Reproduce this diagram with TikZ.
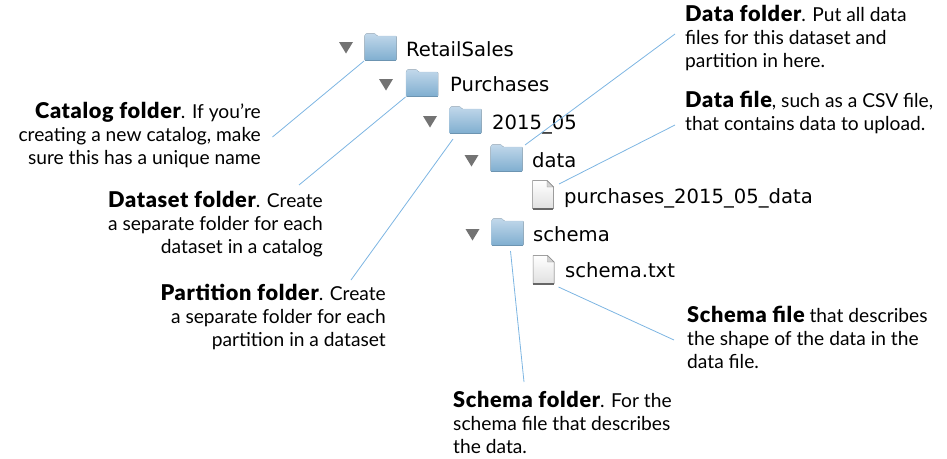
\documentclass[tikz,border=0pt]{standalone}
\usepackage{fontspec}
\setmainfont{Lato}
\newfontfamily\treefont{DejaVu Sans}
\newfontfamily\heavy[Scale=1.13,LetterSpace=3]{Lato Black}
\definecolor{leader}{HTML}{7DB5E2}
\definecolor{foldtop}{HTML}{C2D8EA}
\definecolor{foldbot}{HTML}{7FAED0}
\definecolor{foldedge}{HTML}{B0CBDF}
\definecolor{tri}{gray}{0.45}
\tikzset{
  x=1pt,y=-1pt,
  leaderline/.style={draw=leader,line width=0.8pt},
  iconbox/.style={inner sep=0pt,outer sep=0pt,anchor=north west},
  foldericon/.style={iconbox,minimum width=33pt,minimum height=28pt},
  fileicon/.style={iconbox,minimum width=22pt,minimum height=30pt},
  treelabel/.style={inner sep=0pt,anchor=base west,font=\treefont\fontsize{19.6}{22}\selectfont},
  noteleft/.style={inner sep=0pt,anchor=north west,align=left,font=\fontsize{19.2}{23}\selectfont},
  noteright/.style={inner sep=0pt,anchor=north east,align=right,font=\fontsize{19.2}{23}\selectfont},
}
\newcommand{\mkfolder}[3]{%
  \node[foldericon] (#1) at (#2,#3) {};
  \begin{scope}[shift={(#1.north west)}]
    \fill[top color=foldtop,bottom color=foldbot,draw=foldedge,line width=0.4pt,rounded corners=0.8pt]
      (0.5,27.5) -- (0.5,3) -- (2,0.5) -- (11,0.5) -- (13,3) -- (32.5,3) -- (32.5,27.5) -- cycle;
    \draw[foldbot!85!black,line width=0.6pt] (1,27.5) -- (32,27.5);
  \end{scope}}
\newcommand{\mkfile}[3]{%
  \node[fileicon] (#1) at (#2,#3) {};
  \begin{scope}[shift={(#1.north west)}]
    \fill[top color=white,bottom color=black!12,draw=black!45,line width=0.5pt]
      (0.5,28.5) -- (0.5,0.5) -- (15,0.5) -- (21.5,7) -- (21.5,28.5) -- cycle;
    \fill[black!18,draw=black!45,line width=0.4pt] (15,0.5) -- (15,7) -- (21.5,7) -- cycle;
    \draw[black!60,line width=1.4pt] (0.8,28.8) -- (21.2,28.8);
  \end{scope}}
\newcommand{\mktri}[3]{\fill[tri] (#2,#3) -- ++(14,0) -- ++(-7,11.5) -- cycle;}
\begin{document}
\begin{tikzpicture}
\useasboundingbox (0,0) rectangle (947,458);
% tree
\mktri{t1}{339}{42}
\mktri{t2}{379}{79}
\mktri{t3}{423}{116}
\mktri{t4}{464.5}{155}
\mktri{t5}{465.5}{229}
\mkfolder{fretail}{364}{33}
\mkfolder{fpurch}{405.5}{69}
\mkfolder{fpart}{449}{106}
\mkfolder{fdata}{490}{144}
\mkfolder{fschema}{491}{218}
\mkfile{fdatafile}{532}{180}
\mkfile{fschemafile}{532.5}{255}
\node[treelabel] (lretail) at (406,56) {RetailSales};
\node[treelabel] (lpurch) at (450,91) {Purchases};
\node[treelabel] (lpart) at (492,129) {2015\_05};
\node[treelabel] (ldata) at (532,167) {data};
\node[treelabel] (ldatafile) at (564,203) {purchases\_2015\_05\_data};
\node[treelabel] (lschema) at (533,241) {schema};
\node[treelabel] (lschemafile) at (565,277) {schema.txt};
% notes
\node[noteright] (ncatalog) at (261,102) {{\heavy Catalog folder}. If you're\\creating a new catalog, make\\sure this has a unique name};
\node[noteright] (ndataset) at (323,191) {{\heavy Dataset folder}. Create\\a separate folder for each\\dataset in a catalog};
\node[noteright] (npart) at (386,284) {{\heavy Partition folder}. Create\\a separate folder for each\\partition in a dataset};
\node[noteleft] (ndata) at (685,5) {{\heavy Data folder}. Put all data\\files for this dataset and\\partition in here.};
\node[noteleft] (ndatafile) at (685,91) {{\heavy Data file}, such as a CSV file,\\that contains data to upload.};
\node[noteleft] (nschemafile) at (687,306) {{\heavy Schema file} that describes\\the shape of the data in the\\data file.};
\node[noteleft] (nschema) at (453,391) {{\heavy Schema folder}. For the\\schema file that describes\\the data.};
% leader ends
\coordinate (ecatalog) at (272.5,137);
\coordinate (edataset) at (299,185);
\coordinate (epart) at (351,280);
\coordinate (edata) at (675,34);
\coordinate (edatafile) at (675,125);
\coordinate (eschemafile) at (674,340);
\coordinate (eschema) at (524,382);
\draw[leaderline] (fretail.south west) -- (ecatalog);
\draw[leaderline] (fpurch.south west) -- (edataset);
\draw[leaderline] ([shift={(4,5)}]fpart.south west) -- (epart);
\draw[leaderline] ([shift={(2,1)}]fdata.north east) -- (edata);
\draw[leaderline] ([shift={(5,4)}]fdatafile.north east) -- (edatafile);
\draw[leaderline] ([shift={(3,5)}]fschema.south) -- (eschema);
\draw[leaderline] ([shift={(4,2)}]fschemafile.south east) -- (eschemafile);
\end{tikzpicture}
\end{document}
